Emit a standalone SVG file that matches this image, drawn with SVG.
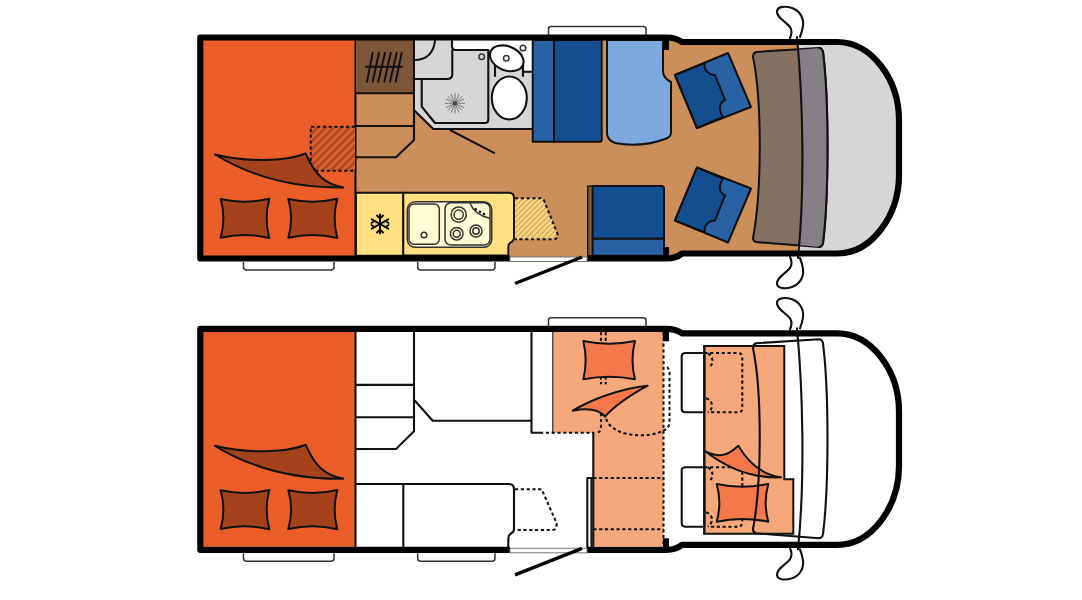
<svg xmlns="http://www.w3.org/2000/svg" xmlns:xlink="http://www.w3.org/1999/xlink" width="1082" height="600" viewBox="0 0 1082 600">
<style>
.l{fill:none;stroke:#111;stroke-width:2.1;stroke-linejoin:round;stroke-linecap:round}
.w{fill:#fff;stroke:#111;stroke-width:2.1;stroke-linejoin:round}
.thin{fill:#fff;stroke:#333;stroke-width:1.5}
.d{fill:none;stroke:#111;stroke-width:2.1;stroke-dasharray:3.2 2.6}
.shell{fill:none;stroke:#000;stroke-width:6.2;stroke-linejoin:round}
.bed{fill:#EC5E29}
.pd{fill:#A5411B;stroke:#111;stroke-width:2;stroke-linejoin:round}
.ps{fill:#F4784A;stroke:#111;stroke-width:2;stroke-linejoin:round}
.sal{fill:#F7A87A}
.db{fill:#134F90;stroke:#111;stroke-width:2;stroke-linejoin:round}
.lb{fill:#2862A4;stroke:#111;stroke-width:2;stroke-linejoin:round}
.k{fill:#FFDF7F;stroke:#111;stroke-width:1.9;stroke-linejoin:round}
.s{fill:#FFFBD5;stroke:#333;stroke-width:1.5;stroke-linejoin:round}
.n{fill:none;stroke:#333;stroke-width:1.5}
.g{fill:#D6D6D6;stroke:#111;stroke-width:1.7;stroke-linejoin:round}
</style>
<defs>
<pattern id="hr" width="5.6" height="5.6" patternUnits="userSpaceOnUse" patternTransform="rotate(45)"><rect width="5.6" height="5.6" fill="#E0602F"/><rect width="2.8" height="5.6" fill="#AD4A22"/></pattern>
<pattern id="hy" width="3.8" height="3.8" patternUnits="userSpaceOnUse" patternTransform="rotate(45)"><rect width="3.8" height="3.8" fill="#FBDB82"/><rect width="1.9" height="3.8" fill="#DFAE69"/></pattern>
<g id="handles">
<path class="thin" d="M243.500 262V267Q243.500 270 246.500 270H331Q334 270 334 267V262"/>
<path class="thin" d="M417.700 262V267Q417.700 270 420.700 270H492Q495 270 495 267V262"/>
<path class="thin" d="M548.500 35V29Q548.500 26.500 551 26.500H643.500Q646 26.500 646 29V35"/>
</g>
<g id="rearbed">
<rect class="bed" x="203" y="40" width="152.500" height="215.500"/>
<path class="l" d="M355.500 40V255.500"/>
</g>
<g id="rearpillows">
<path class="pd" d="M215 154.500C245 162 285 162 305.700 153.500C315 175 325 184 343.300 187.500C290 188 250 176 215 154.500Z"/>
<path class="pd" d="M220.700 199Q245 204.500 269.300 198.700Q264 218 269.300 238Q245 232 220.700 237.700Q226 218 220.700 199Z"/>
<path class="pd" d="M288.300 199Q313 204.500 337.300 198.700Q332 218 337.300 238Q313 232 288.300 237.700Q294 218 288.300 199Z"/>
</g>
<g id="shellline">
<path class="shell" d="M510 258.500H200.300V37.500H666Q676 37.500 682 42H837C872 42 899 80 899 120V175C899 215 872 253.500 837 253.500H682Q676 258.500 666 258.500H587"/>
<rect x="663" y="40" width="6" height="10" fill="#000"/>
<rect x="663" y="247" width="6" height="9" fill="#000"/>
<rect x="510" y="257" width="77" height="4.500" fill="#fff" stroke="#777" stroke-width="1"/>
<path d="M515 283.500L582 257" fill="none" stroke="#000" stroke-width="3.400"/>
</g>
<g id="mirrors">
<path class="l" d="M790 38Q793 32 790 27C785 21 776 17 777 11C778 6 786 6 792 8C800 11 804 18 803 26Q802 32 800 37"/>
<path class="l" d="M790 257Q793 263 790 268C785 274 776 278 777 284C778 289 786 289 792 287C800 284 804 277 803 269Q802 263 800 258"/>
<path class="l" d="M797 37C803 100 805 190 798 258"/>
</g>
</defs>

<g id="plan-day">
<path id="floor" fill="#CC8F59" d="M200 37.500H666Q676 37.500 682 42H797V253.500H682Q676 258.500 666 258.500H200Z"/>
<path id="cab-glass" fill="#D6D6D6" d="M797 42H837C872 42 899 80 899 120V175C899 215 872 253.500 837 253.500H797Z"/>
<use xlink:href="#handles"/>
<use xlink:href="#rearbed"/>
<path id="under-hatch" fill="url(#hr)" stroke="#111" stroke-width="2" stroke-dasharray="3.200 2.600" d="M355 126.700H310.700V170.700H355"/>
<use xlink:href="#rearpillows"/>
<g id="wardrobe">
<rect x="356" y="40" width="58" height="53.300" fill="#7B5639"/>
<path class="l" d="M356 93.300H414M414 40V140L396 157.300H356M356 126H414"/>
<path fill="none" stroke="#111" stroke-width="1.900" stroke-linecap="round" d="M366 66.700H402M372.700 52.700L367 81.700M379 52.700L372.700 81.700M385 52.700L378.300 81.700M390.700 52.700L384.300 81.700M396.700 52.700L390 81.700M401.700 52.700L395.700 81.700"/>
</g>
<g id="bathroom">
<path d="M415 40H532.500V129H433.300L415 111Z" fill="#D6D6D6"/>
<path class="l" d="M415 111L433.300 129H532.500"/>
<path d="M452 40.500H532V50H456Q452 50 452 46Z" fill="#fff"/>
<path d="M523 50H532V71.700H523Z" fill="#fff"/>
<path class="l" d="M452 41V46Q452 50 456 50H488.300V120Q488.300 123 485 123H435L421.700 106.700V79"/>
<path class="l" d="M415 79H447Q452.300 79 452.300 74V50M415.700 60Q433 59 435 40.500"/>
<path class="l" d="M523 71.700H532M495 60V76M523 60V76"/>
<ellipse class="w" cx="506.700" cy="58.300" rx="17.500" ry="12" transform="rotate(22 506.700 58.300)"/>
<circle class="n" cx="506.300" cy="58.300" r="2.800"/>
<circle class="n" cx="523" cy="48" r="2.800"/>
<circle class="n" cx="481.700" cy="56.700" r="2.800"/>
<ellipse class="w" cx="509.300" cy="98" rx="17.500" ry="21.500"/>
<g stroke="#777" stroke-width="1" fill="none"><path d="M445 103.300H465M455 93.300V113.300M448 96.300L462 110.300M462 96.300L448 110.300M446 99L464 107.600M446 107.600L464 99M451 94L459 112.600M459 94L451 112.600"/></g>
<circle cx="455" cy="103.300" r="2" fill="#444"/>
<path fill="none" stroke="#111" stroke-width="2" d="M450 130L495 153.300"/>
</g>
<g id="bench-top">
<rect class="lb" x="532.700" y="40" width="21.300" height="101.700"/>
<path class="db" d="M554 40H601.700V139.700Q601.700 141.700 599.700 141.700H554Z"/>
</g>
<path id="bed-light" fill="#7CAAE0" stroke="#111" stroke-width="2" d="M607 40H663V71Q663 78 671 82V133Q671 137 665 139Q640 148 615 143Q607 140 607 133Z"/>
<g id="bench-bottom">
<rect x="587.700" y="186" width="5" height="70" fill="#7B5639" stroke="#111" stroke-width="1.300"/>
<path class="db" d="M592.700 186H661.500Q664 186 664 188.500V238.700H592.700Z"/>
<rect class="lb" x="592.700" y="238.700" width="71.300" height="17"/>
</g>
<g id="seat-top">
<path class="lb" d="M675 75L728 53L751 107L697 128Z"/>
<path class="db" d="M675 75L705 63Q703 70 710 74Q713 75 715 75L725 100Q719 103 720 110Q721 114 723 117L697 128Z"/>
</g>
<g id="seat-bottom" transform="translate(0 295.500) scale(1 -1)">
<path class="lb" d="M675 75L728 53L751 107L697 128Z"/>
<path class="db" d="M675 75L705 63Q703 70 710 74Q713 75 715 75L725 100Q719 103 720 110Q721 114 723 117L697 128Z"/>
</g>
<g id="dash">
<path fill="#857163" stroke="#111" stroke-width="2" d="M756 52L819 48Q822 48 823 52C829 100 829 195 823 243Q822 247 819 247L756 242Q753 241 753 238C762 190 762 100 753 57Q753 53 756 52Z"/>
<path fill="#858085" d="M797 50L819 48Q822 48 823 52C829 100 829 195 823 243Q822 247 819 247L798 245C804 190 803 100 797 50Z"/>
<path class="l" d="M819 48Q822 48 823 52C829 100 829 195 823 243Q822 247 819 247"/>
</g>
<g id="fridge">
<rect class="k" x="356" y="192.700" width="47.300" height="63"/>
<path fill="none" stroke="#111" stroke-width="2" stroke-linecap="round" d="M380 214.500V233.500M371.800 219.300L388.200 228.700M371.800 228.700L388.200 219.300M377 215.500L380 218.500L383 215.500M377 232.500L380 229.500L383 232.500M371.500 223L374.500 221M388.500 223L385.500 221M371.500 225L374.500 227M388.500 225L385.500 227"/>
</g>
<g id="kitchen">
<path class="k" d="M403.300 192.700H509Q514 192.700 514 198V238Q514 241 510.500 242.500Q508.300 244 508.300 247V255.500H403.300Z"/>
<rect class="s" x="407.300" y="201.700" width="84.400" height="45.600" rx="8"/>
<rect class="s" x="409" y="204" width="30.300" height="40.300" rx="5"/>
<rect class="s" x="445" y="202.700" width="45" height="42.300" rx="6"/>
<path class="n" d="M470 203.300C473 211 480 216 489.500 218.300"/>
<circle class="n" cx="458.700" cy="214.700" r="7.600"/><circle class="n" cx="458.700" cy="214.700" r="4.600"/>
<circle class="n" cx="456.700" cy="233.700" r="6.300"/><circle class="n" cx="456.700" cy="233.700" r="3.500"/>
<circle class="n" cx="476" cy="231" r="6"/><circle class="n" cx="476" cy="231" r="3.200"/>
<circle class="n" cx="424" cy="235" r="2.800"/>
<circle cx="475.700" cy="209.300" r="1.300" fill="#111"/><circle cx="480" cy="211.700" r="1.300" fill="#111"/><circle cx="484" cy="214" r="1.300" fill="#111"/>
</g>
<path id="table-hatch" fill="url(#hy)" stroke="#111" stroke-width="2" stroke-dasharray="3.200 2.600" d="M515 198.300H541Q543.300 198.300 544 200.500L557.300 233.300Q558.500 239.300 553 239.300H515"/>
<use xlink:href="#mirrors"/>
<use xlink:href="#shellline"/>
</g>

<g id="plan-night" transform="translate(0 291.300)">
<use xlink:href="#handles"/>
<use xlink:href="#rearbed"/>
<use xlink:href="#rearpillows"/>
<g id="n-storage">
<path class="l" d="M356 93.600H414M414 40V140L396 157.700H356M356 126H414"/>
<path class="l" d="M415 109.500L432.700 129.400H531.500M531.500 40V141.400H540M553.300 40V141.400"/>
</g>
<g id="n-kitchen">
<path class="l" d="M356 192.700H509Q514 192.700 514 198V238Q514 241 510.500 242.500Q508.300 244 508.300 247V255.500M403.300 192.700V255.500"/>
<path class="d" d="M515 198H541.700L556.700 232Q556.700 238.700 553 238.700H515"/>
</g>
<g id="n-salon">
<path class="sal" d="M553.300 40.700H663.500V255H593.300V141.400H553.300Z"/>
<path class="l" d="M593.300 141.400V255"/>
<path class="d" d="M540 141.400H593.300M663.500 40.700V255M593.300 186.700H663.500M593.300 238H663.500"/>
<path class="d" d="M601 40.700V57M605.700 40.700V57M601 85V93M605.700 85V93M601 116V136Q601 141.400 595 141.400M605.700 116V125C607 138 625 144 640 144Q658 144 667 137Q669.500 135 669.500 130V82Q669.500 76 665 75"/>
<path class="l" d="M587.300 186.700H593.300M587.300 186.700V256M591.500 186.700V256"/>
<path class="ps" d="M583.300 49.700Q609 55 635 49.700Q630 69 635 88Q609 83 583.300 88Q588 69 583.300 49.700Z"/>
<path class="ps" d="M647.700 94.400C620 97 590 109 572.700 119.400C590 116 600 119 605 125.400C615 114 630 104 647.700 94.400Z"/>
</g>
<g id="n-cab">
<path class="sal" stroke="#111" stroke-width="2" d="M704.300 54.700H784.300V188H793.300V242.400H704.300Z"/>
<path class="w" d="M704.300 61.700H686Q681.700 61.700 681.700 65V118Q681.700 121 686 121H704.300Z"/>
<path class="w" d="M704.300 176H686Q681.700 176 681.700 179V232Q681.700 235.400 686 235.400H704.300Z"/>
<path class="l" d="M704.300 54.700V242.400"/>
<path class="d" d="M704.300 61.700H738Q742.300 61.700 742.300 66V117Q742.300 121 738 121H708M708 62C714 66 714 74 708 76M706 107C713 109 714 117 708 121"/>
<path class="d" d="M704.300 176H738Q742.300 176 742.300 180V230Q742.300 235.400 738 235.400H708M708 176C714 180 714 188 708 190M706 221C713 223 714 231 708 235"/>
<path class="ps" d="M706 160.400C720 167 728 164 738.300 154.400C750 174 765 184 781 186C755 187 730 179 706 160.400Z"/>
<path class="ps" d="M716.700 192.700Q742 198 768.300 192.700Q763 211 768.300 230.400Q742 225 716.700 230.400Q722 211 716.700 192.700Z"/>
<path class="l" d="M756 52L819 48Q822 48 823 52C829 100 829 195 823 243Q822 247 819 247L756 242Q753 241 753 238C762 190 762 100 753 57Q753 53 756 52Z"/>
</g>
<use xlink:href="#mirrors"/>
<use xlink:href="#shellline"/>
</g>
</svg>
